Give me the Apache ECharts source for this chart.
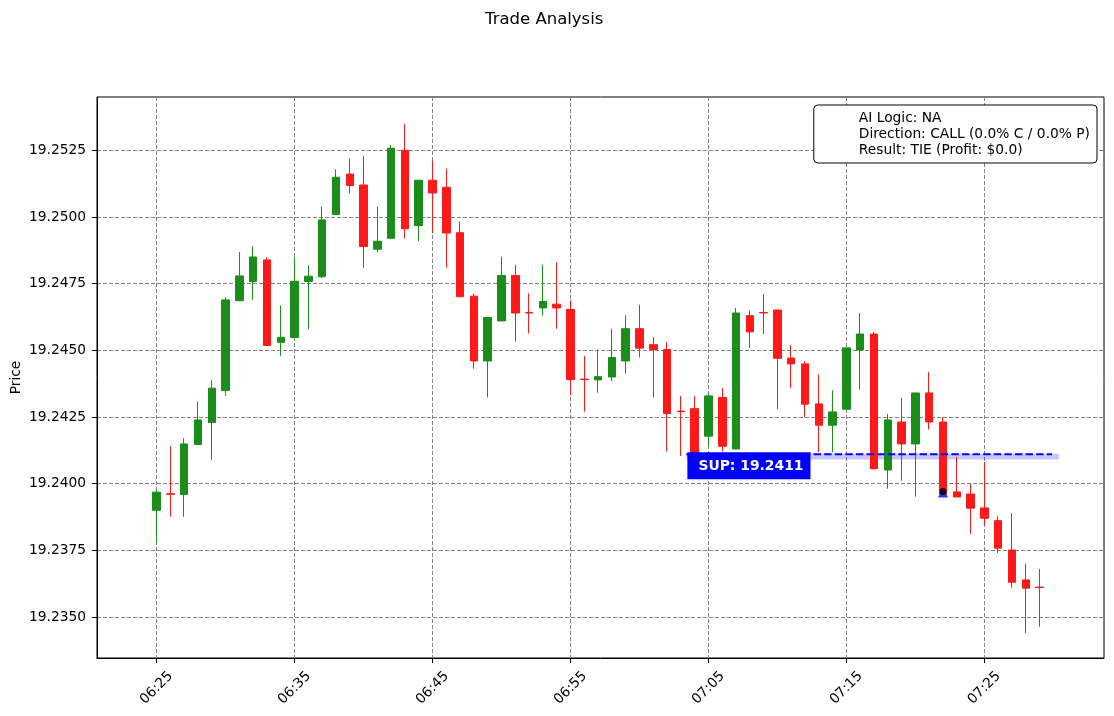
<!DOCTYPE html>
<html>
<head>
<meta charset="utf-8">
<title>Trade Analysis</title>
<script src="https://cdn.jsdelivr.net/npm/echarts@6/dist/echarts.min.js"></script>
<style>
  html, body { margin: 0; padding: 0; background: #fff; }
  #chart { width: 1114px; height: 716px; }
</style>
</head>
<body>
<div id="chart"></div>
<script>
/* one-minute candles */
const times = [
  '06:25','06:26','06:27','06:28','06:29','06:30','06:31','06:32','06:33','06:34',
  '06:35','06:36','06:37','06:38','06:39','06:40','06:41','06:42','06:43','06:44',
  '06:45','06:46','06:47','06:48','06:49','06:50','06:51','06:52','06:53','06:54',
  '06:55','06:56','06:57','06:58','06:59','07:00','07:01','07:02','07:03','07:04',
  '07:05','07:06','07:07','07:08','07:09','07:10','07:11','07:12','07:13','07:14',
  '07:15','07:16','07:17','07:18','07:19','07:20','07:21','07:22','07:23','07:24',
  '07:25','07:26','07:27','07:28','07:29'
];
const opens = [
  19.23900,19.23962,19.23959,19.24147,19.24229,19.24349,19.24686,19.24758,19.24839,19.24530,
  19.24548,19.24758,19.24776,19.25009,19.25161,19.25120,19.24879,19.24920,19.25250,19.24968,
  19.25138,19.25111,19.24941,19.24703,19.24460,19.24610,19.24781,19.24642,19.24659,19.24673,
  19.24653,19.24392,19.24389,19.24400,19.24460,19.24581,19.24521,19.24503,19.24272,19.24281,
  19.24178,19.24323,19.24130,19.24630,19.24642,19.24651,19.24471,19.24449,19.24299,19.24219,
  19.24279,19.24501,19.24561,19.24051,19.24231,19.24149,19.24340,19.24231,19.23969,19.23961,
  19.23909,19.23861,19.23751,19.23639,19.23612
];
const highs = [
  19.23976,19.24141,19.24170,19.24308,19.24389,19.24699,19.24868,19.24890,19.24849,19.24668,
  19.24848,19.24819,19.25039,19.25179,19.25220,19.25229,19.25039,19.25270,19.25350,19.25138,
  19.25210,19.25181,19.24983,19.24713,19.24623,19.24851,19.24821,19.24713,19.24821,19.24831,
  19.24688,19.24479,19.24503,19.24581,19.24631,19.24671,19.24550,19.24531,19.24329,19.24328,
  19.24338,19.24358,19.24659,19.24650,19.24711,19.24651,19.24519,19.24459,19.24410,19.24350,
  19.24509,19.24640,19.24569,19.24261,19.24322,19.24340,19.24419,19.24250,19.24100,19.23999,
  19.24081,19.23878,19.23890,19.23699,19.23680
];
const lows = [
  19.23780,19.23876,19.23876,19.24147,19.24089,19.24329,19.24686,19.24689,19.24518,19.24479,
  19.24548,19.24579,19.24771,19.25009,19.25089,19.24808,19.24868,19.24920,19.24920,19.24910,
  19.24940,19.24810,19.24701,19.24431,19.24323,19.24610,19.24533,19.24563,19.24630,19.24581,
  19.24331,19.24270,19.24341,19.24384,19.24413,19.24473,19.24323,19.24121,19.24104,19.24110,
  19.24143,19.24121,19.24130,19.24509,19.24561,19.24280,19.24359,19.24250,19.24118,19.24118,
  19.24279,19.24353,19.24053,19.23981,19.24011,19.23951,19.24203,19.23961,19.23950,19.23811,
  19.23843,19.23740,19.23610,19.23440,19.23463
];
const closes = [
  19.23968,19.23960,19.24149,19.24239,19.24358,19.24689,19.24779,19.24850,19.24518,19.24549,
  19.24759,19.24778,19.24989,19.25149,19.25118,19.24889,19.24909,19.25258,19.24956,19.25138,
  19.25090,19.24940,19.24701,19.24460,19.24623,19.24781,19.24640,19.24640,19.24683,19.24659,
  19.24390,19.24390,19.24401,19.24473,19.24581,19.24508,19.24503,19.24263,19.24270,19.24115,
  19.24329,19.24140,19.24640,19.24569,19.24640,19.24470,19.24449,19.24298,19.24219,19.24269,
  19.24509,19.24561,19.24056,19.24239,19.24149,19.24340,19.24231,19.23961,19.23950,19.23908,
  19.23870,19.23758,19.23630,19.23608,19.23610
];

/* tick labels */
const xTickLabels = ['06:25','06:35','06:45','06:55','07:05','07:15','07:25'];
const yTickValues = [19.2350,19.2375,19.2400,19.2425,19.2450,19.2475,19.2500,19.2525];

/* support level and its band, entry marker */
const supportLevel = 19.2411;
const supportBand = [19.24090, 19.24112];
const supportFrom = 38.4;   // minutes after first bar
const supportTo = 65.4;
const entryTime = '07:22';
const entryPrice = 19.2397;

const infoLines = [
  'AI Logic: NA',
  'Direction: CALL (0.0% C / 0.0% P)',
  'Result: TIE (Profit: $0.0)'
];

const UP = '#1a8d1a', DOWN = '#ff1a1a';
const FONT = 'DejaVu Sans';

function toMin(t) { const p = t.split(':'); return (+p[0]) * 60 + (+p[1]); }
const base = toMin(times[0]);
function toX(t) { return toMin(t) - base; }
function fmtX(v) {
  const m = Math.round(v + base);
  const h = Math.floor(m / 60), mm = m % 60;
  return String(h).padStart(2, '0') + ':' + String(mm).padStart(2, '0');
}

const candles = times.map((t, i) => [toX(t), opens[i], closes[i], lows[i], highs[i]]);

const chart = echarts.init(document.getElementById('chart'), null, { renderer: 'canvas' });

const option = {
  animation: false,
  backgroundColor: '#fff',
  textStyle: { fontFamily: FONT },
  title: {
    text: 'Trade Analysis',
    left: 480,
    top: 6,
    textStyle: { fontFamily: FONT, fontSize: 16.5, fontWeight: 'normal', color: '#000' }
  },
  legend: {
    orient: 'vertical',
    right: 17,
    top: 105,
    padding: [5, 7, 5, 7],
    itemWidth: 33,
    itemHeight: 14,
    itemGap: 0,
    selectedMode: false,
    backgroundColor: '#fff',
    borderColor: '#000',
    borderWidth: 1,
    borderRadius: 4,
    textStyle: { fontFamily: FONT, fontSize: 13.8, lineHeight: 16, color: '#000' },
    data: infoLines.map(n => ({ name: n, icon: 'rect', itemStyle: { opacity: 0 } }))
  },
  grid: {
    left: 97, right: 10, top: 97, bottom: 58,
    outerBoundsMode: 'none',
    containLabel: false,
    show: true, borderColor: '#000', borderWidth: 1, backgroundColor: 'transparent'
  },
  xAxis: {
    type: 'value',
    min: -4.32,
    max: 68.67,
    axisLine: { show: true, onZero: false, lineStyle: { color: '#000', width: 1 } },
    axisTick: { show: true, length: 5, customValues: xTickLabels.map(toX), lineStyle: { color: '#000' } },
    axisLabel: {
      customValues: xTickLabels.map(toX),
      formatter: fmtX,
      rotate: 45,
      align: 'center',
      verticalAlign: 'middle',
      margin: 30,
      fontFamily: FONT, fontSize: 13.8, color: '#000'
    },
    splitLine: { show: true, lineStyle: { color: '#808080', type: [4, 2], width: 1 } }
  },
  yAxis: {
    type: 'value',
    min: 19.23346,
    max: 19.25450,
    name: 'Price',
    nameLocation: 'middle',
    nameMoveOverlap: false,
    nameGap: 74,
    nameTextStyle: { fontFamily: FONT, fontSize: 13.8, color: '#000' },
    axisLine: { show: true, onZero: false, lineStyle: { color: '#000', width: 1 } },
    axisTick: { show: true, length: 5, customValues: yTickValues, lineStyle: { color: '#000' } },
    axisLabel: {
      customValues: yTickValues,
      formatter: v => v.toFixed(4),
      margin: 11,
      fontFamily: FONT, fontSize: 13.8, color: '#000'
    },
    splitLine: { show: true, lineStyle: { color: '#808080', type: [4, 2], width: 1 } }
  },
  series: [
    {
      type: 'candlestick',
      data: candles,
      encode: { x: 0, y: [1, 2, 3, 4] },
      barWidth: 8,
      itemStyle: {
        color: UP, color0: DOWN,
        borderColor: UP, borderColor0: DOWN,
        borderWidth: 1
      },
      z: 2
    },
    {
      type: 'line',
      name: 'support',
      data: [[supportFrom, supportLevel], [supportTo - 0.5, supportLevel]],
      showSymbol: false,
      symbol: 'none',
      lineStyle: { color: '#0000ff', width: 2, type: [7.4, 3.2] },
      z: 4,
      markArea: {
        silent: true,
        itemStyle: { color: 'rgba(0,0,255,0.22)' },
        data: [[{ coord: [supportFrom, supportBand[1]] }, { coord: [supportTo, supportBand[0]] }]]
      },
      markPoint: {
        symbol: 'rect',
        symbolSize: 0,
        silent: true,
        data: [{ coord: [supportFrom, supportLevel] }],
        label: {
          show: true,
          position: [0, 0],
          offset: [1, -2],
          align: 'left',
          verticalAlign: 'top',
          formatter: 'SUP: ' + supportLevel.toFixed(4),
          backgroundColor: '#0000ff',
          color: '#fff',
          fontFamily: FONT,
          fontSize: 13.9,
          fontWeight: 'bold',
          lineHeight: 16,
          padding: [6, 7, 5, 11]
        }
      }
    },
    {
      type: 'scatter',
      data: [[toX(entryTime), entryPrice]],
      symbol: 'triangle',
      symbolSize: 10,
      symbolOffset: [0, 1],
      itemStyle: { color: '#0000ff' },
      z: 5
    },
    {
      type: 'scatter',
      data: [[toX(entryTime), entryPrice]],
      symbol: 'circle',
      symbolSize: 7,
      itemStyle: { color: '#000' },
      z: 6
    }
  ].concat(infoLines.map(n => ({ type: 'line', name: n, data: [] })))
};

chart.setOption(option);
</script>
</body>
</html>
